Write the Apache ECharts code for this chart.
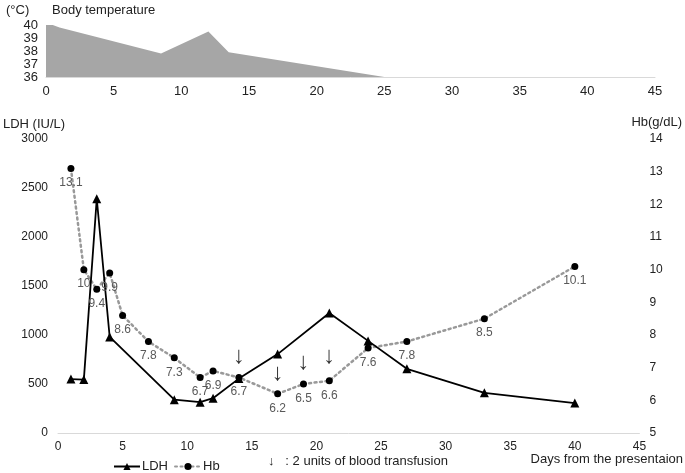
<!DOCTYPE html>
<html><head><meta charset="utf-8">
<script src="https://cdn.jsdelivr.net/npm/echarts@6/dist/echarts.min.js"></script>
<style>html,body{margin:0;padding:0;background:#fff}#c{width:685px;height:473px}</style>
</head><body><div id="c"></div>
<script>
// Body temperature (day, °C)
const tempDays = [0, 1, 8.5, 12, 13.5, 25];
const tempValues = [40.2, 39.8, 37.8, 39.5, 37.9, 36];
// LDH (IU/L)
const ldhDays = [1, 2, 3, 4, 9, 11, 12, 14, 17, 21, 24, 27, 33, 40];
const ldhValues = [550, 545, 2390, 980, 340, 315, 355, 555, 805, 1225, 940, 655, 410, 305];
// Hb (g/dL)
const hbDays = [1, 2, 3, 4, 5, 7, 9, 11, 12, 14, 17, 19, 21, 24, 27, 33, 40];
const hbValues = [13.1, 10, 9.4, 9.9, 8.6, 7.8, 7.3, 6.7, 6.9, 6.7, 6.2, 6.5, 6.6, 7.6, 7.8, 8.5, 10.1];
// Transfusion arrows (day, Hb-axis level)
const transfusionDays = [14, 17, 19, 21];
const transfusionLevels = [7.36, 6.81, 7.17, 7.36];
// Axis ticks
const xTicks = [0, 45, 5];
const ldhTicks = [0, 3000, 500];
const hbTicks = [5, 14, 1];
const tempTicks = [36, 40, 1];

const zip = (a, b) => a.map((v, i) => [v, b[i]]);
const font = 'Liberation Sans, Arial, sans-serif';
const txt = '#222';
const plain = v => String(v);

const chart = echarts.init(document.getElementById('c'), null, {renderer: 'canvas'});
chart.setOption({
  animation: false,
  textStyle: {fontFamily: font},
  grid: [
    {left: 57, right: 45, top: 139, height: 294},
    {left: 46, right: 30, top: 25, height: 52}
  ],
  xAxis: [
    {gridIndex: 0, type: 'value', min: xTicks[0], max: xTicks[1], interval: xTicks[2],
     axisLine: {lineStyle: {color: '#d9d9d9', width: 1}}, axisTick: {show: false},
     splitLine: {show: false},
     axisLabel: {color: txt, fontSize: 12, margin: 8, fontFamily: font, formatter: plain}},
    {gridIndex: 1, type: 'value', min: xTicks[0], max: xTicks[1], interval: xTicks[2],
     axisLine: {lineStyle: {color: '#d9d9d9', width: 1}}, axisTick: {show: false},
     splitLine: {show: false},
     axisLabel: {color: txt, fontSize: 13, margin: 8, fontFamily: font, formatter: plain}}
  ],
  yAxis: [
    {gridIndex: 0, type: 'value', min: ldhTicks[0], max: ldhTicks[1], interval: ldhTicks[2],
     name: 'LDH (IU/L)', nameLocation: 'end', nameGap: 8,
     nameTextStyle: {color: txt, fontSize: 13, align: 'left', padding: [0, 0, 0, -55], fontFamily: font},
     axisLine: {show: false}, axisTick: {show: false}, splitLine: {show: false},
     axisLabel: {color: txt, fontSize: 12, margin: 10, fontFamily: font, formatter: plain}},
    {gridIndex: 0, type: 'value', position: 'right', min: hbTicks[0], max: hbTicks[1], interval: hbTicks[2],
     name: 'Hb(g/dL)', nameLocation: 'end', nameGap: 10,
     nameTextStyle: {color: txt, fontSize: 13, align: 'left', padding: [0, 0, 0, -8], fontFamily: font},
     axisLine: {show: false}, axisTick: {show: false}, splitLine: {show: false},
     axisLabel: {color: txt, fontSize: 12, margin: 10, fontFamily: font, formatter: plain}},
    {gridIndex: 1, type: 'value', min: tempTicks[0], max: tempTicks[1], interval: tempTicks[2],
     axisLine: {show: false}, axisTick: {show: false}, splitLine: {show: false},
     axisLabel: {color: txt, fontSize: 13, margin: 8, fontFamily: font, formatter: plain}}
  ],
  legend: {
    left: 108, top: 455, itemWidth: 26, itemHeight: 9, itemGap: 6,
    textStyle: {color: '#222', fontSize: 13, fontFamily: font, padding: [0, 0, 0, -3]},
    data: ['LDH', 'Hb']
  },
  series: [
    {name: 'Body temperature', type: 'line', xAxisIndex: 1, yAxisIndex: 2,
     data: zip(tempDays, tempValues), symbol: 'none',
     lineStyle: {width: 0}, areaStyle: {color: '#a6a6a6', opacity: 1}},
    {name: 'Hb', type: 'line', xAxisIndex: 0, yAxisIndex: 1,
     data: zip(hbDays, hbValues), symbol: 'circle', symbolSize: 7,
     itemStyle: {color: '#000'},
     lineStyle: {color: '#999', width: 2.5, type: [2, 3.5], cap: 'round'},
     label: {show: true, position: 'bottom', distance: 5, color: '#595959', fontSize: 12,
             fontFamily: font, formatter: p => String(p.value[1])}},
    {name: 'LDH', type: 'line', xAxisIndex: 0, yAxisIndex: 0,
     data: zip(ldhDays, ldhValues), symbol: 'triangle', symbolSize: 9,
     itemStyle: {color: '#000'}, lineStyle: {color: '#000', width: 1.8}},
    {name: 'transfusion', type: 'scatter', xAxisIndex: 0, yAxisIndex: 1,
     data: zip(transfusionDays, transfusionLevels), symbolSize: 0, silent: true,
     label: {show: true, position: 'inside', formatter: '↓', color: '#000', fontSize: 24,
             fontFamily: font}}
  ],
  graphic: [
    {type: 'text', left: 6, top: 4, style: {text: '(°C)', fill: txt, font: '13px ' + font}},
    {type: 'text', left: 52, top: 4, style: {text: 'Body temperature', fill: txt, font: '13px ' + font}},
    {type: 'text', left: 268, top: 455, style: {text: '↓   : 2 units of blood transfusion', fill: txt, font: '13px ' + font}},
    {type: 'text', right: 2, top: 453, style: {text: 'Days from the presentaion', fill: txt, font: '13px ' + font}}
  ]
});
</script></body></html>
